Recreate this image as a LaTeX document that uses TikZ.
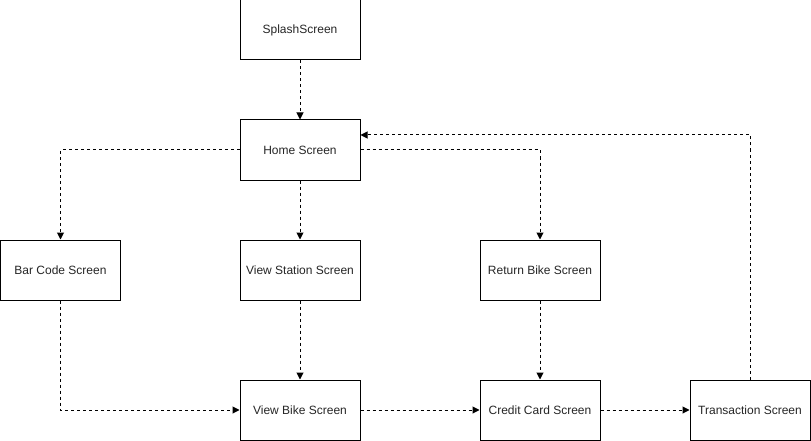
\documentclass[tikz,border=0pt]{standalone}
\usepackage{fontspec}
\setmainfont{Liberation Sans}
\usetikzlibrary{arrows.meta}
\begin{document}
\begin{tikzpicture}[x=1pt,y=-1pt,
  screen/.style={draw=black, line width=1pt, fill=white, minimum width=120pt, minimum height=60pt, inner sep=0pt, font=\fontsize{12}{14}\selectfont, text=black!85},
  flow/.style={draw=black, line width=1pt, dash pattern=on 3pt off 3pt, -{Triangle[length=7pt,width=7pt]}}]
\useasboundingbox (0,0) rectangle (811,441);
\node[screen] (splash) at (300,30) {SplashScreen};
\node[screen] (home) at (300,150) {Home Screen};
\node[screen] (bar) at (60.5,270) {Bar Code Screen};
\node[screen] (station) at (300,270) {View Station Screen};
\node[screen] (ret) at (540,270) {Return Bike Screen};
\node[screen] (bike) at (300,410) {View Bike Screen};
\node[screen] (card) at (540,410) {Credit Card Screen};
\node[screen] (trans) at (750,410) {Transaction Screen};
\coordinate (homeR) at (360.5,135);
\draw[flow] (splash) -- (home);
\draw[flow] (home.west) -| (bar.north);
\draw[flow] (home) -- (station);
\draw[flow] (home.east) -| (ret.north);
\draw[flow] (station) -- (bike);
\draw[flow] (bar.south) |- (bike.west);
\draw[flow] (bike) -- (card);
\draw[flow] (ret) -- (card);
\draw[flow] (card) -- (trans);
\draw[flow] (trans.north) |- (homeR);
\end{tikzpicture}
\end{document}
